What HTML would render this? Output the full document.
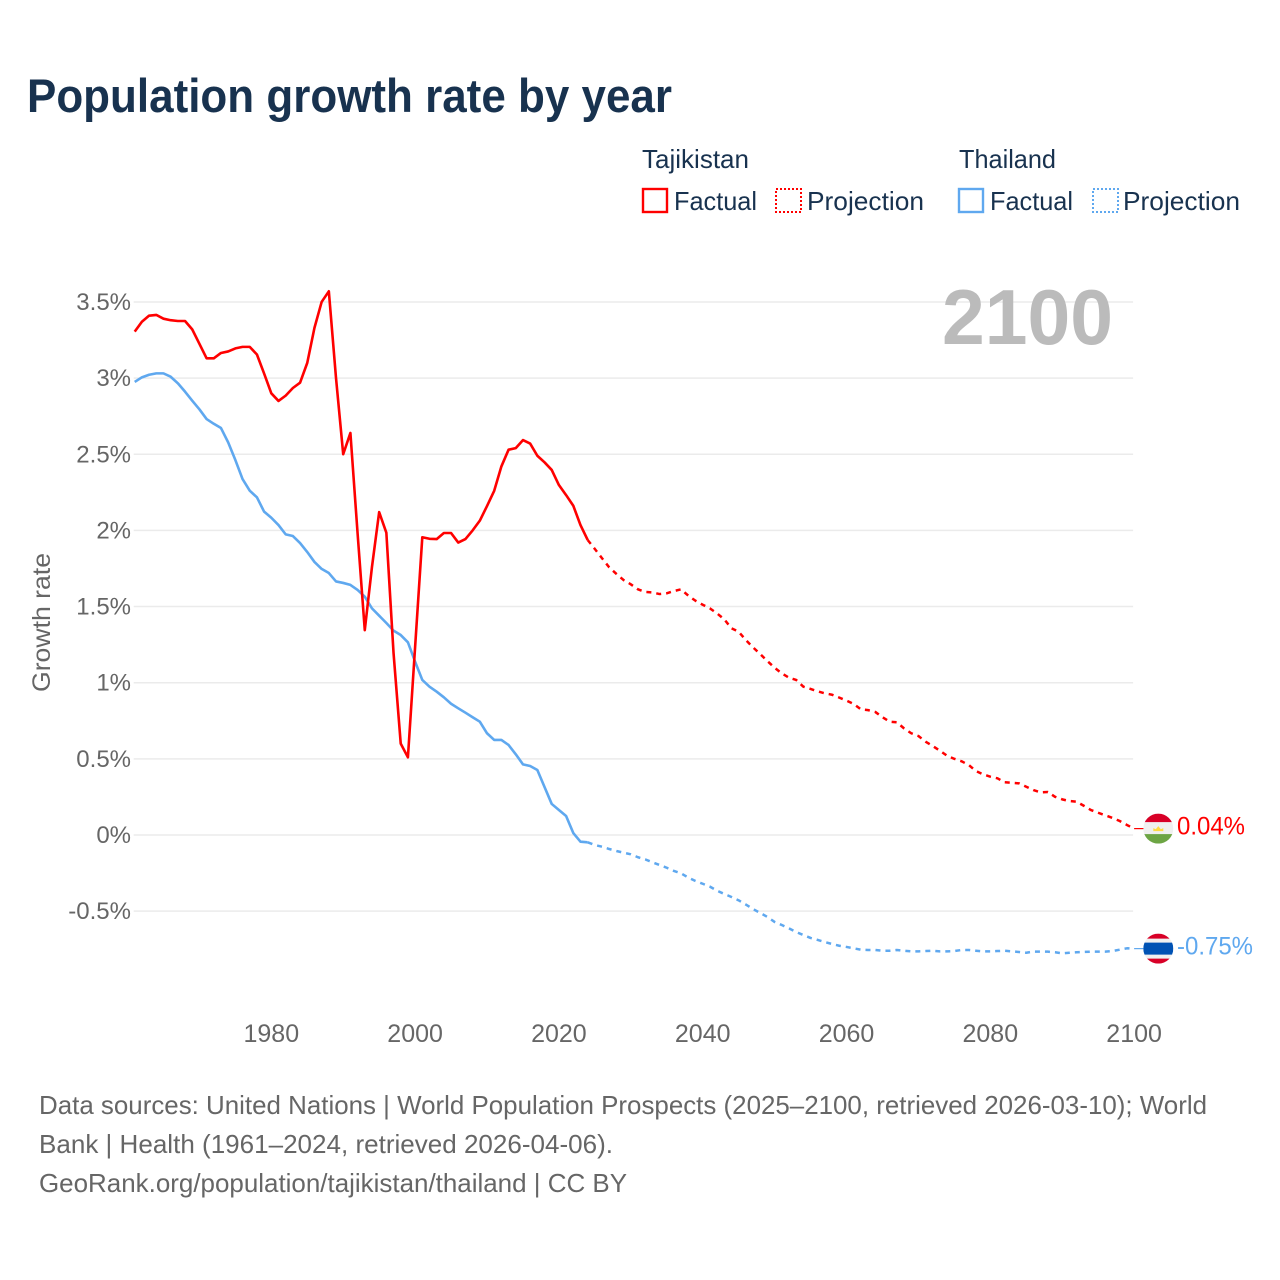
<!DOCTYPE html>
<html lang="en">
<head>
<meta charset="utf-8">
<title>Population growth rate by year</title>
<style>
html,body{margin:0;padding:0;background:#fff;}
svg{display:block;font-family:"Liberation Sans",sans-serif;}
</style>
</head>
<body>
<svg id="chart" xmlns="http://www.w3.org/2000/svg" width="1280" height="1280" viewBox="0 0 1280 1280">
  <rect x="0" y="0" width="1280" height="1280" fill="#fff"/>
  <text x="27" y="112" font-size="47" font-weight="700" fill="#18324f" textLength="645" lengthAdjust="spacingAndGlyphs">Population growth rate by year</text>

  <g fill="#18324f" font-size="26">
    <text x="642" y="168" textLength="107" lengthAdjust="spacingAndGlyphs">Tajikistan</text>
    <text x="959" y="168" textLength="97" lengthAdjust="spacingAndGlyphs">Thailand</text>
    <rect x="643" y="189" width="24" height="23" fill="none" stroke="#ff0000" stroke-width="2.4"/>
    <text x="674" y="210" textLength="83" lengthAdjust="spacingAndGlyphs">Factual</text>
    <rect x="776" y="189" width="25" height="23" fill="none" stroke="#ff0000" stroke-width="2" stroke-dasharray="2 2"/>
    <text x="807" y="210" textLength="117" lengthAdjust="spacingAndGlyphs">Projection</text>
    <rect x="959" y="189" width="24" height="23" fill="none" stroke="#5fa8ef" stroke-width="2.4"/>
    <text x="990" y="210" textLength="83" lengthAdjust="spacingAndGlyphs">Factual</text>
    <rect x="1093" y="189" width="25" height="23" fill="none" stroke="#5fa8ef" stroke-width="2" stroke-dasharray="2 2"/>
    <text x="1123" y="210" textLength="117" lengthAdjust="spacingAndGlyphs">Projection</text>
  </g>

  <g id="grid"></g>
  <g id="yaxis"></g>
  <g id="xaxis"></g>

  <text transform="translate(50,622.5) rotate(-90)" text-anchor="middle" font-size="25" fill="#666" textLength="139" lengthAdjust="spacingAndGlyphs">Growth rate</text>
  <text x="942" y="344" font-size="78" font-weight="700" fill="#bbbbbb" textLength="171" lengthAdjust="spacingAndGlyphs">2100</text>

  <g id="series"></g>
  <g id="flags"></g>

  <g font-size="26" fill="#666">
    <text x="39" y="1114" textLength="1168" lengthAdjust="spacingAndGlyphs">Data sources: United Nations | World Population Prospects (2025–2100, retrieved 2026-03-10); World</text>
    <text x="39" y="1153" textLength="574" lengthAdjust="spacingAndGlyphs">Bank | Health (1961–2024, retrieved 2026-04-06).</text>
    <text x="39" y="1192" textLength="588" lengthAdjust="spacingAndGlyphs">GeoRank.org/population/tajikistan/thailand | CC BY</text>
  </g>
</svg>
<script>
const yTickValues = [3.5, 3, 2.5, 2, 1.5, 1, 0.5, 0, -0.5];
const yTickLabels = ["3.5%", "3%", "2.5%", "2%", "1.5%", "1%", "0.5%", "0%", "-0.5%"];
const xTickYears = [1980, 2000, 2020, 2040, 2060, 2080, 2100];
const factualFirstYear = 1961;
const projectionFirstYear = 2024;
const tajikistanFactual = [
  3.305, 3.37, 3.41, 3.415, 3.39, 3.38, 3.375, 3.375, 3.32, 3.225,
  3.13, 3.13, 3.165, 3.175, 3.195, 3.205, 3.205, 3.155, 3.03, 2.90,
  2.85, 2.885, 2.935, 2.97, 3.10, 3.33, 3.50, 3.57, 3.0, 2.50,
  2.64, 1.98, 1.345, 1.76, 2.12, 1.985, 1.195, 0.60, 0.51, 1.235,
  1.955, 1.945, 1.943, 1.983, 1.983, 1.92, 1.943, 2.00, 2.064, 2.16,
  2.26, 2.42, 2.53, 2.54, 2.593, 2.57, 2.49, 2.447, 2.397, 2.298,
  2.232, 2.162, 2.035, 1.937
];
const tajikistanProjection = [
  1.937, 1.878, 1.817, 1.757, 1.714, 1.674, 1.646, 1.613, 1.596, 1.593,
  1.582, 1.587, 1.602, 1.613, 1.571, 1.538, 1.512, 1.488, 1.455, 1.416,
  1.357, 1.335, 1.28, 1.232, 1.188, 1.142, 1.098, 1.061, 1.033, 1.018,
  0.974, 0.959, 0.943, 0.93, 0.921, 0.902, 0.882, 0.86, 0.825, 0.82,
  0.808, 0.773, 0.744, 0.74, 0.70, 0.668, 0.65, 0.613, 0.584, 0.553,
  0.52, 0.50, 0.484, 0.46, 0.42, 0.398, 0.383, 0.372, 0.346, 0.343,
  0.339, 0.317, 0.295, 0.28, 0.282, 0.251, 0.234, 0.223, 0.219, 0.192,
  0.164, 0.146, 0.129, 0.112, 0.092, 0.066, 0.042
];
const thailandFactual = [
  2.975, 3.005, 3.022, 3.031, 3.031, 3.009, 2.966, 2.911, 2.852, 2.795,
  2.731, 2.70, 2.672, 2.578, 2.462, 2.337, 2.261, 2.217, 2.123, 2.083,
  2.035, 1.974, 1.963, 1.917, 1.858, 1.793, 1.747, 1.72, 1.665, 1.655,
  1.642, 1.609, 1.565, 1.488, 1.44, 1.392, 1.342, 1.313, 1.265, 1.138,
  1.018, 0.974, 0.941, 0.904, 0.862, 0.832, 0.803, 0.773, 0.744, 0.668,
  0.624, 0.624, 0.591, 0.53, 0.464, 0.453, 0.427, 0.315, 0.204, 0.164,
  0.125, 0.013, -0.044, -0.048
];
const thailandProjection = [
  -0.048, -0.066, -0.077, -0.092, -0.105, -0.116, -0.127, -0.146, -0.16, -0.179,
  -0.197, -0.215, -0.236, -0.252, -0.28, -0.302, -0.32, -0.339, -0.366, -0.387,
  -0.407, -0.429, -0.457, -0.486, -0.512, -0.538, -0.571, -0.591, -0.613, -0.637,
  -0.657, -0.676, -0.689, -0.703, -0.716, -0.727, -0.735, -0.744, -0.753, -0.755,
  -0.755, -0.76, -0.76, -0.755, -0.76, -0.764, -0.764, -0.762, -0.76, -0.764,
  -0.764, -0.762, -0.755, -0.755, -0.76, -0.764, -0.764, -0.762, -0.76, -0.764,
  -0.768, -0.773, -0.766, -0.766, -0.766, -0.77, -0.777, -0.773, -0.77, -0.768,
  -0.766, -0.766, -0.766, -0.762, -0.753, -0.744, -0.746
];
const endLabels = ["0.04%", "-0.75%"];

const NS = "http://www.w3.org/2000/svg";
const RED = "#ff0000";
const BLUE = "#5fa8ef";
function xScale(year) { return 134.7 + (year - 1961) * 7.19; }
function yScale(v) { return 835 - v * 152.3; }
function make(tag, parent, attrs) {
  const el = document.createElementNS(NS, tag);
  for (const k in attrs) el.setAttribute(k, attrs[k]);
  parent.appendChild(el);
  return el;
}
function linePath(values, firstYear) {
  return values.map(function (v, i) {
    return (i ? "L" : "M") + xScale(firstYear + i).toFixed(2) + " " + yScale(v).toFixed(2);
  }).join("");
}

const gridG = document.getElementById("grid");
const yAxisG = document.getElementById("yaxis");
const xAxisG = document.getElementById("xaxis");
const seriesG = document.getElementById("series");
const flagsG = document.getElementById("flags");

yTickValues.forEach(function (v, i) {
  const grid = make("line", gridG, { x1: xScale(1961) - 1, x2: xScale(2100) - 1, y1: yScale(v), y2: yScale(v), stroke: "#ebebeb", "stroke-width": 1.5 });
  
  
  const label = make("text", yAxisG, { x: 131, y: yScale(v) + 8, "text-anchor": "end", "font-size": 24, fill: "#666" });
  label.textContent = yTickLabels[i];
  
  
});

xTickYears.forEach(function (year) {
  const label = make("text", xAxisG, { x: xScale(year), y: 1042, "text-anchor": "middle", "font-size": 25, fill: "#666" });
  label.textContent = String(year);
  
  
});

const thaProjLine = make("path", seriesG, { d: linePath(thailandProjection, projectionFirstYear), fill: "none", stroke: BLUE, "stroke-width": 2.5, "stroke-dasharray": "5 5", "stroke-linejoin": "round" });


const thaFactLine = make("path", seriesG, { d: linePath(thailandFactual, factualFirstYear), fill: "none", stroke: BLUE, "stroke-width": 2.6, "stroke-linejoin": "round" });


const tajProjLine = make("path", seriesG, { d: linePath(tajikistanProjection, projectionFirstYear), fill: "none", stroke: RED, "stroke-width": 2.5, "stroke-dasharray": "5 5", "stroke-linejoin": "round" });


const tajFactLine = make("path", seriesG, { d: linePath(tajikistanFactual, factualFirstYear), fill: "none", stroke: RED, "stroke-width": 2.6, "stroke-linejoin": "round" });



const defs = make("defs", flagsG, {});
const tajY = yScale(tajikistanProjection[tajikistanProjection.length - 1]);
const thaY = yScale(thailandProjection[thailandProjection.length - 1]);
const flagX = 1158.3;
const endX = xScale(2100);

const tajClip = make("clipPath", defs, { id: "clip-taj" });
make("circle", tajClip, { cx: flagX, cy: tajY, r: 15 });
const thaClip = make("clipPath", defs, { id: "clip-tha" });
make("circle", thaClip, { cx: flagX, cy: thaY, r: 15 });

const tajConn = make("line", flagsG, { x1: endX, x2: flagX - 14, y1: tajY, y2: tajY, stroke: RED, "stroke-width": 1.2 });


const thaConn = make("line", flagsG, { x1: endX, x2: flagX - 14, y1: thaY, y2: thaY, stroke: BLUE, "stroke-width": 1.2 });



const tajFlag = make("g", flagsG, { "clip-path": "url(#clip-taj)" });


make("rect", tajFlag, { x: flagX - 15, y: tajY - 15, width: 30, height: 30, fill: "#f0f0f0" });
make("rect", tajFlag, { x: flagX - 15, y: tajY - 15, width: 30, height: 8.5, fill: "#d80027" });
make("rect", tajFlag, { x: flagX - 15, y: tajY + 5.5, width: 30, height: 9.5, fill: "#6da544" });
make("path", tajFlag, { d: "M" + (flagX - 5) + " " + (tajY + 2.5) + "h10v-3l-2.5 1.2l-2.5 -3.2l-2.5 3.2l-2.5 -1.2z", fill: "#ffda44" });

const thaFlag = make("g", flagsG, { "clip-path": "url(#clip-tha)" });


make("rect", thaFlag, { x: flagX - 15, y: thaY - 15, width: 30, height: 30, fill: "#f0f0f0" });
make("rect", thaFlag, { x: flagX - 15, y: thaY - 15, width: 30, height: 5, fill: "#d80027" });
make("rect", thaFlag, { x: flagX - 15, y: thaY + 10, width: 30, height: 5, fill: "#d80027" });
make("rect", thaFlag, { x: flagX - 15, y: thaY - 6, width: 30, height: 12, fill: "#0052b4" });

const tajEnd = make("text", flagsG, { x: 1177, y: tajY + 6, "font-size": 25, fill: RED, textLength: 68, lengthAdjust: "spacingAndGlyphs" });
tajEnd.textContent = endLabels[0];


const thaEnd = make("text", flagsG, { x: 1177, y: thaY + 6, "font-size": 25, fill: BLUE, textLength: 76, lengthAdjust: "spacingAndGlyphs" });
thaEnd.textContent = endLabels[1];


</script>
</body>
</html>
